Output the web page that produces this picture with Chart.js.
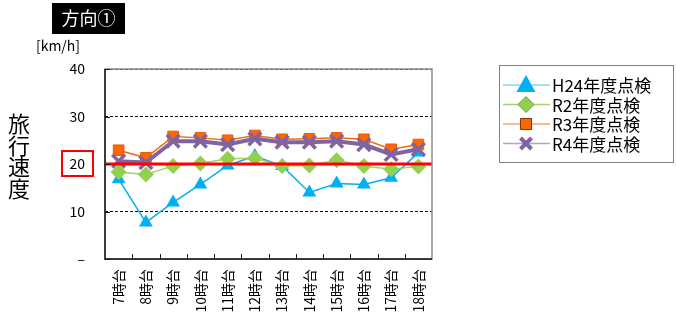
<!DOCTYPE html>
<html>
<head>
<meta charset="utf-8">
<script src="https://cdn.jsdelivr.net/npm/chart.js@4.4.0/dist/chart.umd.min.js"></script>
<style>
  html, body { margin: 0; padding: 0; background: #fff; }
  #wrap { position: relative; width: 676px; height: 325px; }
</style>
</head>
<body>
<div id="wrap"><canvas id="c" width="676" height="325"></canvas></div>
<script>
// Hourly travel speed (km/h), direction 1
const hours = ['7時台', '8時台', '9時台', '10時台', '11時台', '12時台', '13時台', '14時台', '15時台', '16時台', '17時台', '18時台'];
const speedH24 = [16.8, 7.7, 11.9, 15.7, 19.7, 21.7, 19.6, 14.0, 15.9, 15.7, 17.1, 22.4];
const speedR2 = [18.3, 17.8, 19.6, 20.1, 21.1, 21.2, 19.6, 19.7, 20.8, 19.6, 18.9, 19.5];
const speedR3 = [22.9, 21.3, 25.8, 25.5, 25.0, 26.0, 25.2, 25.3, 25.5, 25.2, 23.1, 24.1];
const speedR4 = [20.6, 20.3, 24.8, 24.8, 24.1, 25.3, 24.6, 24.6, 24.8, 24.1, 22.0, 23.1];
const seriesNames = ['H24年度点検', 'R2年度点検', 'R3年度点検', 'R4年度点検'];
const yTicks = [0, 10, 20, 30, 40];
const targetSpeed = 20;

const JP = '"Noto Sans CJK JP", "Noto Sans", sans-serif';

// Marker painter shared by legend
function marker(ctx, style, x, y, r, fill, stroke, lw) {
  ctx.save();
  ctx.fillStyle = fill; ctx.strokeStyle = stroke; ctx.lineWidth = lw;
  ctx.beginPath();
  if (style === 'triangle') {
    ctx.moveTo(x, y - r);
    ctx.lineTo(x + r * 0.95, y + r * 0.7);
    ctx.lineTo(x - r * 0.95, y + r * 0.7);
    ctx.closePath(); ctx.fill();
  } else if (style === 'rectRot') {
    ctx.moveTo(x, y - r); ctx.lineTo(x + r, y); ctx.lineTo(x, y + r); ctx.lineTo(x - r, y);
    ctx.closePath(); ctx.fill(); ctx.stroke();
  } else if (style === 'rect') {
    ctx.rect(x - r, y - r, 2 * r, 2 * r); ctx.fill(); ctx.stroke();
  } else if (style === 'crossRot') {
    ctx.lineCap = 'butt';
    ctx.moveTo(x - r, y - r); ctx.lineTo(x + r, y + r);
    ctx.moveTo(x + r, y - r); ctx.lineTo(x - r, y + r);
    ctx.stroke();
  }
  ctx.restore();
}

const legendItems = [
  { line: '#8AD4F2', style: 'triangle', r: 10, fill: '#00B0F0', stroke: '#00B0F0', lw: 1 },
  { line: '#9FD66A', style: 'rectRot', r: 8, fill: '#92D050', stroke: '#6E9E3A', lw: 1 },
  { line: '#F9A36B', style: 'rect', r: 5.5, fill: '#FF6600', stroke: '#7A3A10', lw: 1 },
  { line: '#B3A2CC', style: 'crossRot', r: 5.5, fill: '#7F63A1', stroke: '#7F63A1', lw: 4 }
];

const decorations = {
  id: 'decorations',
  afterDatasetsDraw(chart) {
    const { ctx, chartArea: a, scales } = chart;
    ctx.save();
    // reference speed line
    const y20 = scales.y.getPixelForValue(targetSpeed);
    ctx.strokeStyle = '#FF0000'; ctx.lineWidth = 3;
    ctx.beginPath(); ctx.moveTo(a.left, y20); ctx.lineTo(a.right, y20); ctx.stroke();
    ctx.restore();
  },
  afterDraw(chart) {
    const { ctx, chartArea: a, scales } = chart;
    const ys = scales.y;
    ctx.save();
    // plot frame
    ctx.strokeStyle = '#8C8C8C'; ctx.lineWidth = 1.5;
    ctx.strokeRect(a.left, a.top, a.right - a.left, a.bottom - a.top);
    ctx.strokeStyle = '#1A1A1A'; ctx.lineWidth = 1.5;
    ctx.beginPath();
    ctx.moveTo(a.left, a.top); ctx.lineTo(a.left, a.bottom); ctx.lineTo(a.right, a.bottom);
    ctx.stroke();
    // inward tick marks
    ctx.lineWidth = 1;
    ctx.beginPath();
    const n = hours.length, step = (a.right - a.left) / n;
    for (let i = 1; i < n; i++) {
      const x = Math.round(a.left + i * step) + 0.5;
      ctx.moveTo(x, a.bottom); ctx.lineTo(x, a.bottom - 5);
    }
    yTicks.forEach(v => {
      const y = Math.round(ys.getPixelForValue(v)) + 0.5;
      ctx.moveTo(a.left, y); ctx.lineTo(a.left + 5, y);
    });
    ctx.stroke();

    // heading box
    ctx.fillStyle = '#000';
    ctx.fillRect(52, 3, 73, 31);
    ctx.fillStyle = '#fff';
    ctx.font = '18px ' + JP;
    ctx.textAlign = 'center'; ctx.textBaseline = 'middle';
    ctx.fillText('方向①', 88.5, 18.5);

    // unit label
    ctx.fillStyle = '#000';
    ctx.font = '14px ' + JP;
    ctx.fillText('[km/h]', 58, 46);

    // vertical axis title
    ctx.font = '22px ' + JP;
    const title = '旅行速度';
    for (let i = 0; i < title.length; i++) {
      ctx.fillText(title[i], 19, 124 + i * 21.5);
    }

    // highlight around 20
    ctx.strokeStyle = '#FF0000'; ctx.lineWidth = 2;
    ctx.strokeRect(62, 151, 31, 25);

    // legend
    ctx.strokeStyle = '#7F7F7F'; ctx.lineWidth = 1;
    ctx.strokeRect(499.5, 65.5, 174, 97);
    ctx.font = '17px ' + JP;
    ctx.textAlign = 'left'; ctx.textBaseline = 'middle';
    legendItems.forEach((it, i) => {
      const y = 85 + i * 19.5;
      ctx.strokeStyle = it.line; ctx.lineWidth = 1.5;
      ctx.beginPath(); ctx.moveTo(503, y); ctx.lineTo(550, y); ctx.stroke();
      marker(ctx, it.style, 526, y, it.r, it.fill, it.stroke, it.lw);
      ctx.fillStyle = '#000';
      ctx.fillText(seriesNames[i], 552, y + 1);
    });
    ctx.restore();
  }
};

new Chart(document.getElementById('c'), {
  type: 'line',
  data: {
    labels: hours,
    datasets: [
      { label: seriesNames[0], data: speedH24, borderColor: '#00B0F0', backgroundColor: '#00B0F0',
        borderWidth: 1.5, pointStyle: 'triangle', pointRadius: 8, pointBorderWidth: 0, order: 4 },
      { label: seriesNames[1], data: speedR2, borderColor: '#9CD45E', backgroundColor: '#92D050',
        pointBorderColor: '#92D050', borderWidth: 1.5, pointStyle: 'rectRot', pointRadius: 8, pointBorderWidth: 0, order: 3 },
      { label: seriesNames[2], data: speedR3, borderColor: '#F26B12', backgroundColor: '#FF6600',
        pointBorderColor: '#E85E0A', borderWidth: 1.5, pointStyle: 'rect', pointRadius: 7.5, pointBorderWidth: 1, order: 2 },
      { label: seriesNames[3], data: speedR4, borderColor: '#8064A2', backgroundColor: '#7F63A1',
        borderWidth: 4, pointStyle: 'crossRot', pointRadius: 9, pointBorderWidth: 3.5, order: 1 }
    ]
  },
  options: {
    responsive: false,
    animation: false,
    layout: { padding: { left: 0, right: 244, top: 69, bottom: 0 } },
    plugins: { legend: { display: false }, tooltip: { enabled: false } },
    elements: { line: { tension: 0 } },
    scales: {
      x: {
        offset: true,
        grid: { display: false, drawTicks: false },
        border: { display: false },
        ticks: {
          autoSkip: false, minRotation: 90, maxRotation: 90, padding: 10,
          color: '#000', font: { family: JP, size: 14 }
        },
        afterFit(scale) { scale.height = 66; }
      },
      y: {
        min: 0, max: 40,
        afterBuildTicks(scale) { scale.ticks = yTicks.map(v => ({ value: v })); },
        grid: { drawTicks: false, color: '#000', lineWidth: 1, z: 0 },
        border: { display: false, dash: [3, 2] },
        ticks: {
          padding: 20, color: '#000', font: { family: JP, size: 14 },
          callback: v => (v === 0 ? '–' : String(v))
        },
        afterFit(scale) { scale.width = 105; }
      }
    }
  },
  plugins: [decorations]
});
</script>
</body>
</html>
